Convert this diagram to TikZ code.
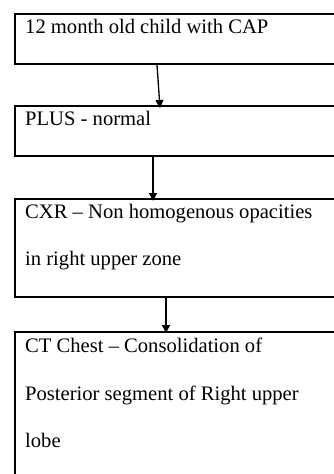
\documentclass[tikz,border=0pt]{standalone}
\usepackage{fontspec}
\setmainfont{Liberation Serif}
\usetikzlibrary{positioning, arrows.meta}

\begin{document}
\begin{tikzpicture}[
  x=1pt, y=-1pt,
  box/.style  = {draw, line width=1.6pt, anchor=north west, minimum width=340pt, inner sep=0pt},
  txt/.style  = {font=\fontsize{20.6}{47.4}\selectfont, align=left, anchor=north west, inner sep=0pt,
                 execute at begin node={\rule{0pt}{15pt}}},
  flow/.style = {line width=1.3pt, -{Triangle[length=8pt, width=8pt]}},
]
\useasboundingbox (0,0) rectangle (334,474);
\clip (0,0) rectangle (334,474);
% boxes, top to bottom
\node[box, minimum height=50pt]  (age)  at (14,13)  {};
\node[box, minimum height=50pt]  (plus) at (14,105) {};
\node[box, minimum height=98pt]  (cxr)  at (14,198) {};
\node[box, minimum height=170pt] (ct)   at (14,331) {};
% texts (first baseline 15pt below the node top)
\node[txt] (ageT)  at ([shift={(11,5)}]age.north west)  {12 month old child with CAP};
\node[txt] (plusT) at ([shift={(11,5)}]plus.north west) {PLUS - normal};
\node[txt] (cxrT)  at ([shift={(11,6)}]cxr.north west)  {CXR -- Non homogenous opacities\\in right upper zone};
\node[txt] (ctT)   at ([shift={(11,7)}]ct.north west)   {CT Chest -- Consolidation of\\Posterior segment of Right upper\\lobe};
% arrows
\draw[flow] ([xshift=143pt]age.south west)  -- ([xshift=146pt, yshift=-3pt]plus.north west);
\draw[flow] ([xshift=139pt]plus.south west) -- ([xshift=139pt, yshift=-3pt]cxr.north west);
\draw[flow] ([xshift=152pt]cxr.south west)  -- ([xshift=152pt, yshift=-2pt]ct.north west);
\end{tikzpicture}
\end{document}
